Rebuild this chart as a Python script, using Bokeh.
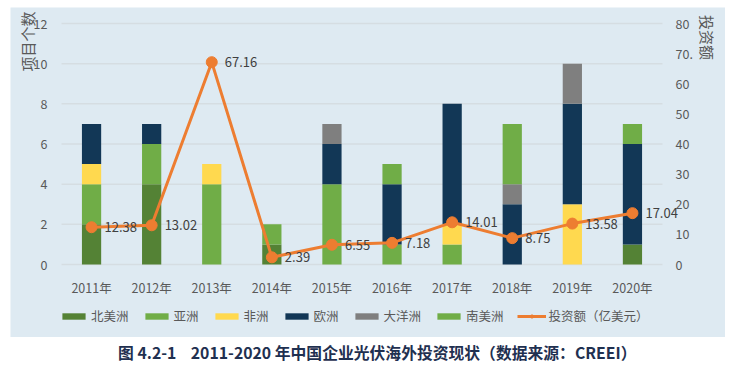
import math
from bokeh.plotting import figure
from bokeh.models import (ColumnDataSource, Range1d, LabelSet, Label, Legend, LegendItem)
from bokeh.core.properties import value
from bokeh.layouts import column
from bokeh.embed import file_html
from bokeh.resources import INLINE

years = ["2011年", "2012年", "2013年", "2014年", "2015年", "2016年", "2017年", "2018年", "2019年", "2020年"]
regions = ["北美洲", "亚洲", "非洲", "欧洲", "大洋洲", "南美洲"]
north_america = [2, 4, 0, 1, 0, 0, 0, 0, 0, 1]
asia = [2, 2, 4, 1, 4, 1, 1, 0, 0, 0]
africa = [1, 0, 1, 0, 0, 0, 1, 0, 3, 0]
europe = [2, 1, 0, 0, 2, 3, 6, 3, 5, 5]
oceania = [0, 0, 0, 0, 1, 0, 0, 1, 2, 0]
south_america = [0, 0, 0, 0, 0, 1, 0, 3, 0, 1]
investment = [12.38, 13.02, 67.16, 2.39, 6.55, 7.18, 14.01, 8.75, 13.58, 17.04]
left_ticks = [0, 2, 4, 6, 8, 10, 12]
left_tick_labels = ["0", "2", "4", "6", "8", "10", "12"]
right_ticks = [0, 10, 20, 30, 40, 50, 60, 70, 80]
right_tick_labels = ["0", "10", "20", "30", "40", "50", "60", "70.", "80"]
line_name = "投资额（亿美元）"
left_title = "项目个数"
right_title = "投资额"
caption = "图 4.2-1\u00a0\u00a0\u00a0 2011-2020 年中国企业光伏海外投资现状（数据来源：CREEI）"

colors = ["#548235", "#70AD47", "#FFD94F", "#123756", "#7F7F7F", "#70AD47"]
LINE = "#ED7D31"
BG = "#DEEAF2"
FONT = "Noto Sans CJK SC"
GRAY = "#595959"

# ---- layout (pixels inside the 715 x 330 chart panel) ----
W, H = 715, 330
PL, PR, PT, PB = 51, 652, 16, 257          # plotting area edges
n = len(years)
LMAX, RMAX = left_ticks[-1], right_ticks[-1]
ux = (PR - PL) / n                          # px per category
uy = (PB - PT) / LMAX                       # px per project
ur = (PB - PT) / RMAX                       # px per 亿美元

x_start = -0.5 - PL / ux
x_end = n - 0.5 + (W - PR) / ux
y_start = -(H - PB) / uy
y_end = LMAX + PT / uy
r_start = -(H - PB) / ur
r_end = RMAX + PT / ur

pos = list(range(n))
source = ColumnDataSource(dict(
    x=pos, 北美洲=north_america, 亚洲=asia, 非洲=africa, 欧洲=europe,
    大洋洲=oceania, 南美洲=south_america, inv=investment,
    lbl=[f"{v:.2f}" for v in investment],
))

p = figure(x_range=Range1d(x_start, x_end), y_range=Range1d(y_start, y_end),
           width=W, height=H, output_backend="svg", toolbar_location=None, min_border=0)
p.margin = (7, 0, 0, 10)
p.background_fill_color = BG
p.border_fill_color = BG
p.outline_line_color = None
p.grid.visible = False
p.axis.visible = False
p.extra_y_ranges = {"inv": Range1d(r_start, r_end)}

# grid lines over the category span
p.segment(x0=-0.5, x1=n - 0.5, y0=left_ticks, y1=left_ticks,
          line_color="#D5DDE2", line_width=1.5)

bars = p.vbar_stack(regions, x="x", width=0.32, fill_color=colors, line_color=None,
                    source=source)

ln = p.line("x", "inv", source=source, y_range_name="inv", color=LINE, line_width=3)
sc = p.scatter("x", "inv", source=source, y_range_name="inv", color=LINE, size=11)
p.add_layout(LabelSet(x="x", y="inv", text="lbl", source=source, y_range_name="inv",
                      x_offset=13, y_offset=0, text_baseline="middle",
                      text_font=value(FONT), text_font_size="13px", text_color="#404040"))

tick_style = dict(text_font=value(FONT), text_font_size="12.5px", text_color=GRAY,
                  text_baseline="middle")
# left value axis labels
lsrc = ColumnDataSource(dict(y=left_ticks, t=left_tick_labels,
                             x=[-0.5 - 14 / ux] * len(left_ticks)))
p.add_layout(LabelSet(x="x", y="y", text="t", source=lsrc, text_align="right", **tick_style))
# right value axis labels
rsrc = ColumnDataSource(dict(y=right_ticks, t=right_tick_labels,
                             x=[n - 0.5 + 13 / ux] * len(right_ticks)))
p.add_layout(LabelSet(x="x", y="y", text="t", source=rsrc, y_range_name="inv",
                      text_align="left", **tick_style))
# category axis labels
csrc = ColumnDataSource(dict(x=pos, t=years, y=[-23 / uy] * n))
p.add_layout(LabelSet(x="x", y="y", text="t", source=csrc, text_align="center", **tick_style))

# axis titles
p.add_layout(Label(x=-0.5 - 34 / ux, y=LMAX - 18 / uy, text=left_title, angle=math.pi / 2,
                   text_align="center", text_baseline="middle",
                   text_font=FONT, text_font_size="15px", text_color=GRAY))
p.add_layout(Label(x=n - 0.5 + 45 / ux, y=LMAX - 14 / uy, text=right_title, angle=-math.pi / 2,
                   text_align="center", text_baseline="middle",
                   text_font=FONT, text_font_size="15px", text_color=GRAY))

items = [LegendItem(label=r, renderers=[b]) for r, b in zip(regions, bars)]
items.append(LegendItem(label=line_name, renderers=[ln, sc]))
lg = Legend(items=items, orientation="horizontal", location=(PL - 2, 12),
            background_fill_alpha=0, border_line_color=None,
            glyph_width=29, glyph_height=8, label_standoff=3, spacing=13,
            padding=0, margin=0, label_text_font=FONT, label_text_font_size="12.5px",
            label_text_color=GRAY)
p.add_layout(lg, "center")

t = figure(width=W, height=30, x_range=Range1d(0, 1), y_range=Range1d(0, 1),
           output_backend="svg", toolbar_location=None, min_border=0)
t.margin = (0, 0, 0, 10)
t.axis.visible = False
t.grid.visible = False
t.outline_line_color = None
t.background_fill_color = "white"
t.border_fill_color = "white"
t.add_layout(Label(x=0.513, y=0.5, text=caption, text_align="center", text_baseline="middle",
                   text_font=FONT, text_font_size="15.8px", text_font_style="bold",
                   text_color="#1F3050"))

layout = column(p, t, spacing=0)
open("out.html", "w").write(file_html(layout, INLINE))
